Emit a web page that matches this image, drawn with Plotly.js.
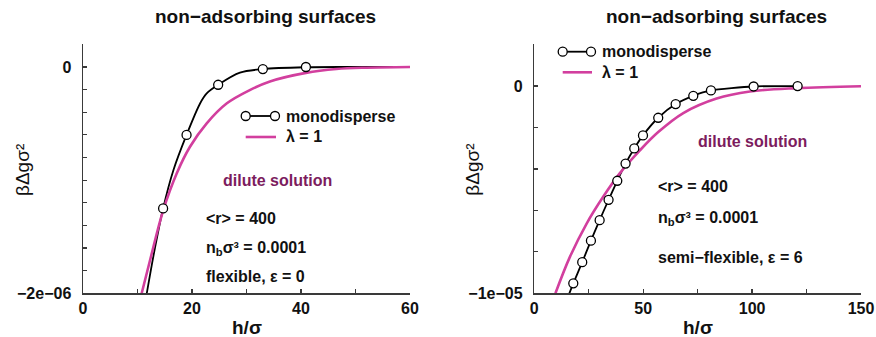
<!DOCTYPE html>
<html>
<head>
<meta charset="utf-8">
<script src="https://cdn.plot.ly/plotly-3.0.1.min.js"></script>
<style>html,body{margin:0;padding:0;background:#fff}#chart{width:876px;height:337px}</style>
</head>
<body>
<div id="chart"></div>
<script>
// ---------- data: left panel (flexible, eps = 0) ----------
const leftMonoCurveX = [11.7, 13.2, 14.7, 16.6, 19.0, 21.5, 22.7, 24.8, 28.8, 33.0, 41.0, 50.0, 60.0];
const leftMonoCurveY = [-2.0e-6, -1.6e-6, -1.25e-6, -0.91e-6, -0.60e-6, -0.32e-6, -0.233e-6, -0.157e-6, -0.05e-6, -0.018e-6, -0.002e-6, 0, 0];
const leftMonoMarkX = [14.7, 19.0, 24.8, 33.0, 40.9];
const leftMonoMarkY = [-1.25e-6, -0.60e-6, -0.157e-6, -0.018e-6, 0];
const leftLambdaX = [10.77, 12.3, 14.73, 17.19, 19.63, 22.7, 26.4, 30.6, 34.3, 40.9, 46.5, 52.0, 60.0];
const leftLambdaY = [-2.0e-6, -1.708e-6, -1.265e-6, -0.941e-6, -0.705e-6, -0.498e-6, -0.321e-6, -0.204e-6, -0.128e-6, -0.052e-6, -0.018e-6, -0.006e-6, 0];

// ---------- data: right panel (semi-flexible, eps = 6) ----------
const rightMonoMarkX = [17.9, 22.0, 26.0, 30.0, 34.1, 38.1, 41.9, 45.9, 49.9, 56.9, 64.9, 73.0, 81.1, 100.7, 120.9];
const rightMonoMarkY = [-0.952e-5, -0.850e-5, -0.746e-5, -0.647e-5, -0.549e-5, -0.457e-5, -0.374e-5, -0.301e-5, -0.238e-5, -0.153e-5, -0.087e-5, -0.047e-5, -0.021e-5, -0.002e-5, 0];
const rightMonoCurveX = [16.1].concat(rightMonoMarkX);
const rightMonoCurveY = [-1.0e-5].concat(rightMonoMarkY);
const rightLambdaX = [9.7, 16.4, 24.1, 31.7, 39.3, 48.5, 56.9, 68.4, 83.7, 99.0, 120.5, 150.0];
const rightLambdaY = [-1.0e-5, -0.823e-5, -0.662e-5, -0.533e-5, -0.42e-5, -0.31e-5, -0.222e-5, -0.13e-5, -0.06e-5, -0.026e-5, -0.010e-5, -0.001e-5];

// ---------- ticks ----------
const leftXTicks = [0, 20, 40, 60];
const leftXText = ['0', '20', '40', '60'];
const leftXMinor = [10, 30, 50];
const leftYTicks = [-2e-6, 0];
const leftYText = ['\u22122e\u221206', '0'];
const leftYMinor = [-1.8e-6, -1.6e-6, -1.4e-6, -1.2e-6, -1e-6, -0.8e-6, -0.6e-6, -0.4e-6, -0.2e-6];
const rightXTicks = [0, 50, 100, 150];
const rightXText = ['0', '50', '100', '150'];
const rightXMinor = [25, 75, 125];
const rightYTicks = [-1e-5, 0];
const rightYText = ['\u22121e\u221205', '0'];
const rightYMinor = [-0.8e-5, -0.6e-5, -0.4e-5, -0.2e-5];

// ---------- styles ----------
const W = 876, H = 337;
const px = v => v / W, py = v => 1 - v / H;
const FONT = 'Liberation Sans, Arial, Helvetica, sans-serif';
const MAGENTA = '#d23f9e';
const PURPLE = '#7c1c5e';
const AX = '#3a3a3a';

const markerStyle = {size: 9, color: '#ffffff', line: {color: '#000000', width: 1.3}};

const traces = [
  {x: leftMonoCurveX, y: leftMonoCurveY, mode: 'lines', line: {color: '#000', width: 1.8, shape: 'spline', smoothing: 0.9}, xaxis: 'x', yaxis: 'y'},
  {x: leftLambdaX, y: leftLambdaY, mode: 'lines', line: {color: MAGENTA, width: 2.6, shape: 'spline', smoothing: 1.0}, xaxis: 'x', yaxis: 'y'},
  {x: leftMonoMarkX, y: leftMonoMarkY, mode: 'markers', marker: markerStyle, xaxis: 'x', yaxis: 'y'},
  {x: rightMonoCurveX, y: rightMonoCurveY, mode: 'lines', line: {color: '#000', width: 1.8, shape: 'spline', smoothing: 0.6}, xaxis: 'x2', yaxis: 'y2'},
  {x: rightLambdaX, y: rightLambdaY, mode: 'lines', line: {color: MAGENTA, width: 2.6, shape: 'spline', smoothing: 1.0}, xaxis: 'x2', yaxis: 'y2'},
  {x: rightMonoMarkX, y: rightMonoMarkY, mode: 'markers', marker: markerStyle, xaxis: 'x2', yaxis: 'y2'}
];

function axis(domain, range, vals, text, minorVals, anchor, isY) {
  const a = {domain, range, tickmode: 'array', tickvals: vals, ticktext: text, ticks: 'inside', ticklen: 4,
    tickcolor: AX, tickwidth: 1.2, showline: true, linecolor: AX, linewidth: 1.5, showgrid: false, zeroline: false,
    minor: {tickmode: 'array', tickvals: minorVals, ticks: 'inside', ticklen: 4, tickcolor: AX, tickwidth: 1.2, showgrid: false},
    tickfont: {family: FONT, size: 16, color: '#111', weight: 'bold'}, anchor, fixedrange: true};
  if (isY) a.ticklabelstandoff = 7;
  return a;
}

const yDom = [py(293.3), py(44)];
const layout = {
  width: W, height: H, margin: {l: 0, r: 0, t: 0, b: 0}, paper_bgcolor: '#fff', plot_bgcolor: 'rgba(0,0,0,0)',
  showlegend: false,
  xaxis: axis([px(83), px(410)], [0, 60], leftXTicks, leftXText, leftXMinor, 'y', false),
  yaxis: axis(yDom, [-2e-6, 2.033e-7], leftYTicks, leftYText, leftYMinor, 'x', true),
  xaxis2: axis([px(534.3), px(861)], [0, 150], rightXTicks, rightXText, rightXMinor, 'y2', false),
  yaxis2: axis(yDom, [-1e-5, 2.03e-6], rightYTicks, rightYText, rightYMinor, 'x2', true),
  annotations: [],
  shapes: []
};

function ann(text, x, y, opts) {
  layout.annotations.push(Object.assign({text, x: px(x), y: py(y), xref: 'paper', yref: 'paper', showarrow: false,
    xanchor: 'center', yanchor: 'middle', font: {family: FONT, size: 16, color: '#111', weight: 'bold'}}, opts || {}));
}
const boldFont = (size, color) => ({family: FONT, size, color: color || '#111', weight: 'bold'});

// titles
ann('non\u2212adsorbing surfaces', 265, 17, {font: boldFont(19)});
ann('non\u2212adsorbing surfaces', 716, 17, {font: boldFont(19)});
ann('h/\u03c3', 247, 327, {font: boldFont(19)});
ann('h/\u03c3', 698, 327, {font: boldFont(19)});
ann('\u03b2\u0394g\u03c3\u00b2', 22, 170, {textangle: -90, font: {family: FONT, size: 19, color: '#111'}});
ann('\u03b2\u0394g\u03c3\u00b2', 471.7, 170, {textangle: -90, font: {family: FONT, size: 19, color: '#111'}});

// panel text, left
ann('dilute solution', 277, 180, {font: boldFont(16, PURPLE)});
ann('&lt;r&gt; = 400', 204, 218, {xanchor: 'left'});
ann('n<sub>b</sub>\u03c3\u00b3 = 0.0001', 204, 248, {xanchor: 'left'});
ann('flexible, \u03b5 = 0', 204, 276, {xanchor: 'left'});
// panel text, right
ann('dilute solution', 752, 141, {font: boldFont(16, PURPLE)});
ann('&lt;r&gt; = 400', 656, 186, {xanchor: 'left'});
ann('n<sub>b</sub>\u03c3\u00b3 = 0.0001', 656, 218, {xanchor: 'left'});
ann('semi\u2212flexible, \u03b5 = 6', 656, 257, {xanchor: 'left'});

// legends (drawn as keys)
function legendKey(x0, x1, yMono, yLam, xText) {
  layout.shapes.push({type: 'line', xref: 'paper', yref: 'paper', x0: px(x0), x1: px(x1), y0: py(yMono), y1: py(yMono), line: {color: '#000', width: 1.8}});
  [x0, x1].forEach(xc => layout.shapes.push({type: 'circle', xref: 'paper', yref: 'paper', xsizemode: 'pixel', ysizemode: 'pixel',
    xanchor: px(xc), yanchor: py(yMono), x0: -4.5, x1: 4.5, y0: -4.5, y1: 4.5, fillcolor: '#fff', line: {color: '#000', width: 1.3}}));
  layout.shapes.push({type: 'line', xref: 'paper', yref: 'paper', x0: px(x0), x1: px(x1 + 1), y0: py(yLam), y1: py(yLam), line: {color: MAGENTA, width: 2.6}});
  ann('monodisperse', xText, yMono, {xanchor: 'left'});
  ann('\u03bb = 1', xText, yLam, {xanchor: 'left'});
}
legendKey(245.7, 275, 116, 137, 284);
legendKey(562.7, 591, 51.7, 72.3, 600);

Plotly.newPlot('chart', traces, layout, {displayModeBar: false, staticPlot: true});
</script>
</body>
</html>
